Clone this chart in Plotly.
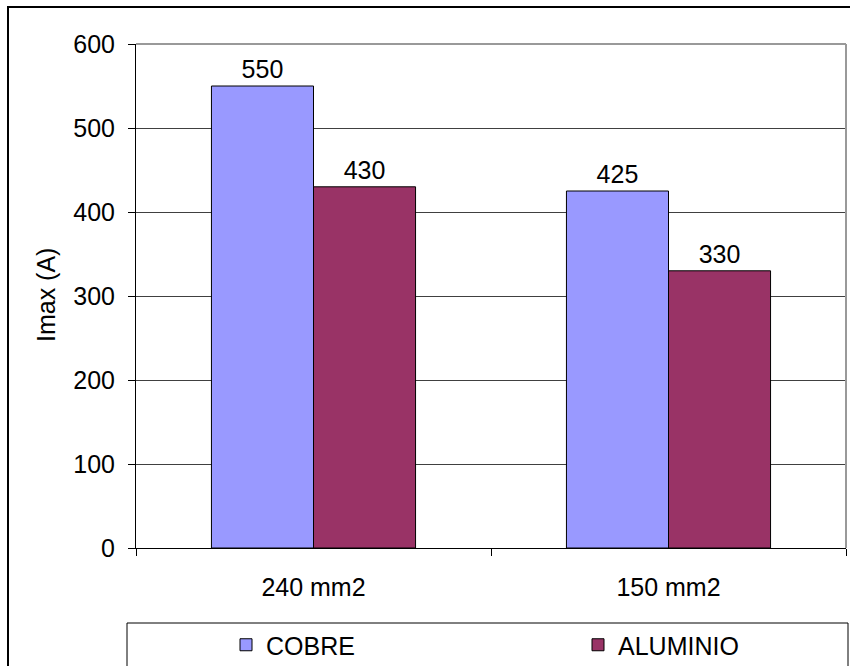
import plotly.graph_objects as go

categories = ["240 mm2", "150 mm2"]
cobre = [550, 425]
aluminio = [430, 330]
series_names = ["COBRE", "ALUMINIO"]
y_ticks = [0, 100, 200, 300, 400, 500, 600]

FONT = "Liberation Sans, Arial, sans-serif"
FS = 25

W, H = 850, 666
L, R, T, B = 136, 4, 44, 118
pw, ph = W - L - R, H - T - B

def px_x(p):
    return (p - L) / pw

def px_y(p):
    return (H - B - p) / ph

fig = go.Figure()
fig.add_trace(go.Bar(x=categories, y=cobre, name=series_names[0],
                     marker=dict(color="#9999FF", line=dict(color="black", width=1)),
                     text=[str(v) for v in cobre], textposition="outside",
                     textfont=dict(size=FS, color="black", family=FONT), cliponaxis=False))
fig.add_trace(go.Bar(x=categories, y=aluminio, name=series_names[1],
                     marker=dict(color="#993366", line=dict(color="black", width=1)),
                     text=[str(v) for v in aluminio], textposition="outside",
                     textfont=dict(size=FS, color="black", family=FONT), cliponaxis=False))

fig.update_layout(
    width=W, height=H,
    margin=dict(l=L, r=R, t=T, b=B, autoexpand=False),
    paper_bgcolor="white", plot_bgcolor="white",
    font=dict(family=FONT, size=FS, color="black"),
    barmode="group", bargap=0.425, bargroupgap=0,
    showlegend=True,
    legend=dict(orientation="h", x=px_x(226), xanchor="left", y=px_y(645), yanchor="middle",
                bgcolor="rgba(0,0,0,0)", borderwidth=0, entrywidth=307, entrywidthmode="pixels",
                font=dict(size=FS, family=FONT, color="black"), traceorder="normal"),
    xaxis=dict(showline=True, linecolor="black", linewidth=1, ticks="outside", tickson="boundaries",
               ticklen=7, tickcolor="black", showgrid=False, ticklabelstandoff=17,
               tickfont=dict(size=FS, family=FONT, color="black")),
    yaxis=dict(range=[0, 600], tickvals=y_ticks, showline=True, linecolor="black", linewidth=1,
               ticks="outside", ticklen=7, tickcolor="black", showgrid=True, gridcolor="#404040",
               gridwidth=1, zeroline=False, ticklabelstandoff=8,
               tickfont=dict(size=FS, family=FONT, color="black")),
    shapes=[
        dict(type="rect", xref="paper", yref="paper", x0=px_x(8), x1=px_x(852), y0=px_y(7), y1=px_y(680),
             line=dict(color="black", width=2), fillcolor="rgba(0,0,0,0)", layer="below"),
        dict(type="line", xref="paper", yref="paper", x0=0, x1=1, y0=1, y1=1,
             line=dict(color="#999999", width=2)),
        dict(type="line", xref="paper", yref="paper", x0=1, x1=1, y0=0, y1=1,
             line=dict(color="#999999", width=2)),
        dict(type="rect", xref="paper", yref="paper", x0=px_x(127), x1=px_x(848), y0=px_y(623), y1=px_y(680),
             line=dict(color="black", width=1), fillcolor="rgba(0,0,0,0)"),
    ],
    annotations=[
        dict(text="Imax (A)", xref="paper", yref="paper", x=px_x(46), y=px_y(295), textangle=-90,
             showarrow=False, font=dict(size=FS, family=FONT, color="black"),
             xanchor="center", yanchor="middle"),
    ],
)

fig.write_html("out.html")
